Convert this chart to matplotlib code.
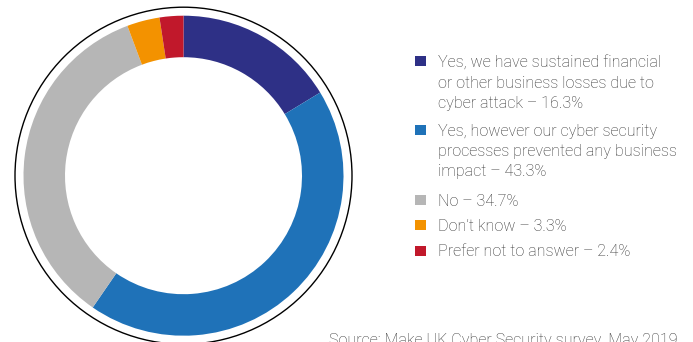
import matplotlib
matplotlib.use('Agg')
import matplotlib.pyplot as plt
from matplotlib.patches import Circle, Rectangle

# survey answers, clockwise from 12 o'clock
labels = ['Yes, we have sustained financial\nor other business losses due to\ncyber attack \u2013 16.3%',
          'Yes, however our cyber security\nprocesses prevented any business\nimpact \u2013 43.3%',
          'No \u2013 34.7%',
          'Don\u2019t know \u2013 3.3%',
          'Prefer not to answer \u2013 2.4%']
shares = [16.3, 43.3, 34.7, 3.3, 2.4]
colors = ['#2e3086', '#1f72b8', '#b6b6b6', '#f39200', '#c1182b']

W, H = 693, 342
fig = plt.figure(figsize=(W / 100, H / 100), dpi=100)
ax = fig.add_axes([0, 0, 1, 1])

cx, cy = 183.5, H - 175.7
r_out, r_in = 160, 118.5
ax.pie(shares, colors=colors, startangle=90, counterclock=False,
       center=(cx, cy), radius=r_out,
       wedgeprops=dict(width=r_out - r_in, linewidth=0))
ax.add_patch(Circle((cx, cy), 168.5, fill=False, edgecolor='black', linewidth=1.0))

ax.set_xlim(0, W)
ax.set_ylim(0, H)
ax.set_aspect('equal')
ax.axis('off')

# legend drawn by hand: square + wrapped label
txt = dict(family=['Roboto', 'DejaVu Sans'], fontweight='light', fontsize=11.6,
           color='#333333', linespacing=1.42)
baselines = [67, 136, 205.5, 231, 256.5]
for lab, col, b in zip(labels, colors, baselines):
    ax.add_patch(Rectangle((415, H - b + 1), 11, 10, color=col, linewidth=0))
    if '\n' in lab:
        # top-anchored so the first line sits on its baseline
        ax.text(437.5, H - b + 11.6, lab, va='top', ha='left', **txt)
    else:
        ax.text(437.5, H - b, lab, va='baseline', ha='left', **txt)

ax.text(329, H - 344.5, 'Source: Make UK Cyber Security survey, May 2019',
        va='baseline', ha='left', **txt)

fig.savefig('out.png', dpi=100)
